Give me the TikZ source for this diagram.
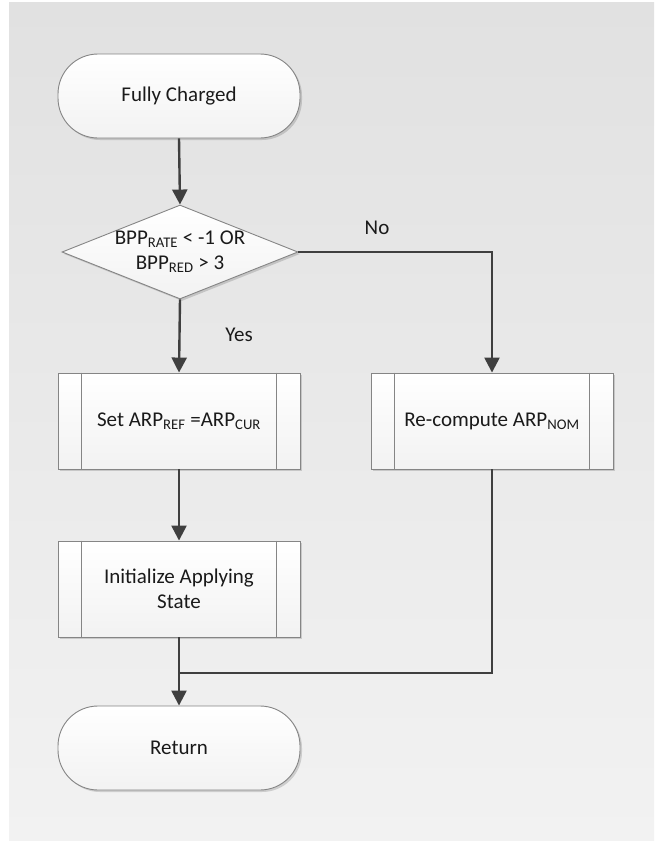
\documentclass[tikz,border=0pt]{standalone}
\usepackage{fontspec}
\setmainfont{Carlito}
\usetikzlibrary{arrows.meta,shapes.geometric,shadows}
\definecolor{panelTop}{HTML}{E1E1E1}
\definecolor{panelBot}{HTML}{F2F2F2}
\definecolor{edge}{HTML}{858585}
\definecolor{flow}{HTML}{3F3F3F}
\definecolor{ink}{HTML}{1A1A1A}
\newcommand{\lowidx}[1]{\textsubscript{#1}}
\tikzset{
  boxfill/.style={top color=white, bottom color=white!95!black, draw=edge, line width=0.9pt,
    drop shadow={shadow xshift=2pt, shadow yshift=-2pt, opacity=0.15, fill=black}},
  terminal/.style={boxfill, rectangle, rounded corners=40pt, minimum width=242pt,
    minimum height=84pt, inner sep=0pt},
  procbox/.style={boxfill, rectangle, minimum width=242pt, minimum height=96pt, inner sep=0pt},
  decision/.style={boxfill, diamond, minimum width=236pt, minimum height=94pt, inner sep=0pt},
  label/.style={text=ink, font=\fontsize{21}{25}\selectfont, align=center, inner sep=0pt},
  flowline/.style={draw=flow, line width=2.4pt},
  flowarrow/.style={flowline, -{Triangle[width=15pt,length=15pt]}},
  sideline/.style={draw=edge, line width=0.9pt}
}
\begin{document}
\begin{tikzpicture}[x=1pt,y=-1pt]
  \useasboundingbox (0,0) rectangle (654,841);
  % panel
  \shade[top color=panelTop, bottom color=panelBot] (9,2) rectangle (654,841);

  % shapes
  \node[terminal] (fc) at (179,96) {};
  \node[label] (fctext) at (fc) {Fully Charged};

  \node[decision] (dec) at (180,252) {};
  \node[label] (dectext) at (180,252) {BPP\lowidx{RATE} < -1 OR\\BPP\lowidx{RED} > 3};

  \node[procbox] (set) at (179,421) {};
  \node[label] (settext) at (set) {Set ARP\lowidx{REF} =ARP\lowidx{CUR}};

  \node[procbox] (rc) at (492,421) {};
  \node[label] (rctext) at (rc) {Re-compute ARP\lowidx{NOM}};

  \node[procbox] (init) at (179,589) {};
  \node[label] (inittext) at (init) {Initialize Applying\\State};

  \node[terminal] (ret) at (179,748) {};
  \node[label] (rettext) at (ret) {Return};

  % inner side bars of the process boxes
  \foreach \b in {set,rc,init}{
    \draw[sideline] ([xshift=24pt]\b.north west) -- ([xshift=24pt]\b.south west);
    \draw[sideline] ([xshift=-24pt]\b.north east) -- ([xshift=-24pt]\b.south east);
  }

  % connectors
  \draw[flowarrow] (fc.south) -- (dec.north);
  \draw[flowarrow] (dec.south) -- (set.north);
  \draw[flowarrow] (dec.east) -| (rc.north);
  \draw[flowarrow] (set.south) -- (init.north);
  \draw[flowarrow] (init.south) -- (ret.north);
  \coordinate (join) at (179,673);
  \draw[flowline] (rc.south) |- (join);

  % branch labels
  \node[label] (yes) at (239,335) {Yes};
  \node[label] (no) at (377,228) {No};
\end{tikzpicture}
\end{document}
